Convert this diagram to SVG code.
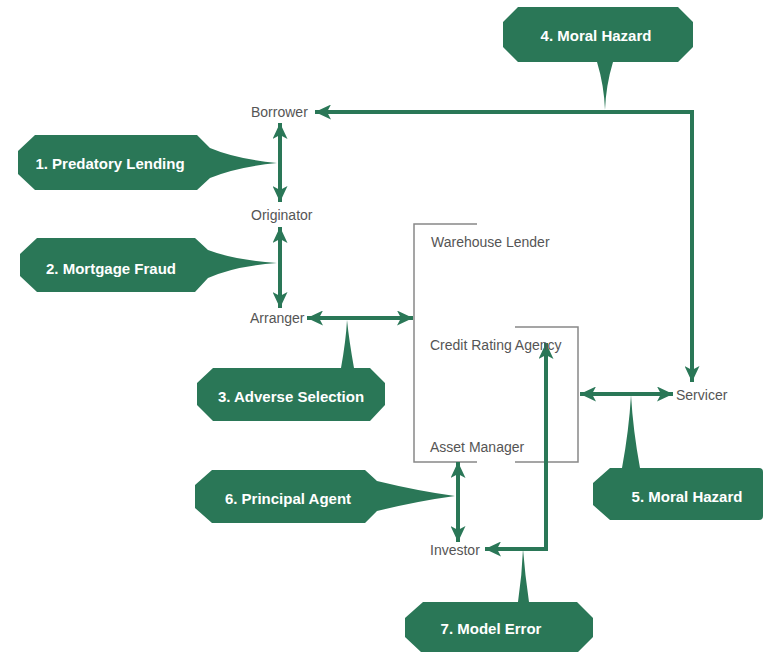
<svg xmlns="http://www.w3.org/2000/svg" width="766" height="653" viewBox="0 0 766 653">
<style>
.bg{fill:#ffffff}
.box{fill:#2a7757}
.bt{font-family:"Liberation Sans",Arial,sans-serif;font-weight:bold;font-size:15px;fill:#ffffff;text-anchor:middle}
.lbl{font-family:"Liberation Sans",Arial,sans-serif;font-size:14px;fill:#555555}
.br{fill:none;stroke:#888888;stroke-width:1.5}
.con{fill:none;stroke:#2a7757;stroke-width:4}
</style>
<defs>
<marker id="ah" markerUnits="userSpaceOnUse" markerWidth="17" markerHeight="15" refX="16" refY="7.5" orient="auto-start-reverse" viewBox="0 0 17 15">
<path d="M0,0 L16,7.5 L0,15 L4,7.5 Z" fill="#2a7757"/>
</marker>
</defs>
<rect class="bg" x="0" y="0" width="766" height="653"/>

<g id="brackets">
<path class="br" d="M477,224 H414 V462 H477"/>
<path class="br" d="M515,327 H578 V462 H515"/>
</g>

<g id="connectors">
<path class="con" d="M315,112 H692 V382" marker-start="url(#ah)" marker-end="url(#ah)"/>
<path class="con" d="M280,123 V202" marker-start="url(#ah)" marker-end="url(#ah)"/>
<path class="con" d="M280,227 V308" marker-start="url(#ah)" marker-end="url(#ah)"/>
<path class="con" d="M307,318 H413" marker-start="url(#ah)" marker-end="url(#ah)"/>
<path class="con" d="M580,394 H673" marker-start="url(#ah)" marker-end="url(#ah)"/>
<path class="con" d="M458,462 V542" marker-start="url(#ah)" marker-end="url(#ah)"/>
<path class="con" d="M485,549 H546 V343" marker-start="url(#ah)" marker-end="url(#ah)"/>
</g>

<g id="borrower"><text class="lbl" x="251" y="117">Borrower</text></g>
<g id="originator"><text class="lbl" x="251" y="220">Originator</text></g>
<g id="arranger"><text class="lbl" x="250" y="323">Arranger</text></g>
<g id="warehouse-lender"><text class="lbl" x="431" y="247">Warehouse Lender</text></g>
<g id="credit-rating-agency"><text class="lbl" x="430" y="350">Credit Rating Agency</text></g>
<g id="asset-manager"><text class="lbl" x="430" y="452">Asset Manager</text></g>
<g id="servicer"><text class="lbl" x="676" y="400">Servicer</text></g>
<g id="investor"><text class="lbl" x="430" y="555">Investor</text></g>

<g id="risk1">
<path class="box" d="M35,135 H197 L210,148 Q236,159 277,163 Q236,167 210,178 L197,190 H35 L18,174 V151 Z"/>
<text class="bt" x="110" y="169">1. Predatory Lending</text>
</g>
<g id="risk2">
<path class="box" d="M37,238 H195 L208,250 Q234,260 277,263 Q234,266 208,278 L195,292 H37 L20,276 V254 Z"/>
<text class="bt" x="111" y="274">2. Mortgage Fraud</text>
</g>
<g id="risk3">
<path class="box" d="M213,368 H341 Q346,340 347,320 Q349,340 354,368 H370 L385,383 V405 L370,421 H213 L197,405 V383 Z"/>
<text class="bt" x="291" y="402">3. Adverse Selection</text>
</g>
<g id="risk4">
<path class="box" d="M518,7 H678 L693,22 V47 L678,62 H613 Q606,85 605,110 Q604,85 597,62 H518 L503,47 V22 Z"/>
<text class="bt" x="596" y="41">4. Moral Hazard</text>
</g>
<g id="risk5">
<path class="box" d="M610,468 H622 Q629,430 631,395 Q633,430 640,468 H759 Q763,468 763,472 V516 Q763,520 759,520 H610 L593,505 V483 Z"/>
<text class="bt" x="687" y="502">5. Moral Hazard</text>
</g>
<g id="risk6">
<path class="box" d="M212,470 H365 L377,481 Q418,491 455,496 Q418,501 377,511 L365,523 H212 L195,508 V485 Z"/>
<text class="bt" x="288" y="504">6. Principal Agent</text>
</g>
<g id="risk7">
<path class="box" d="M423,602 H518 Q522,575 523,549 Q525,575 529,602 H577 L593,618 V637 L578,652 H421 L405,637 V618 Z"/>
<text class="bt" x="491" y="634">7. Model Error</text>
</g>
</svg>
